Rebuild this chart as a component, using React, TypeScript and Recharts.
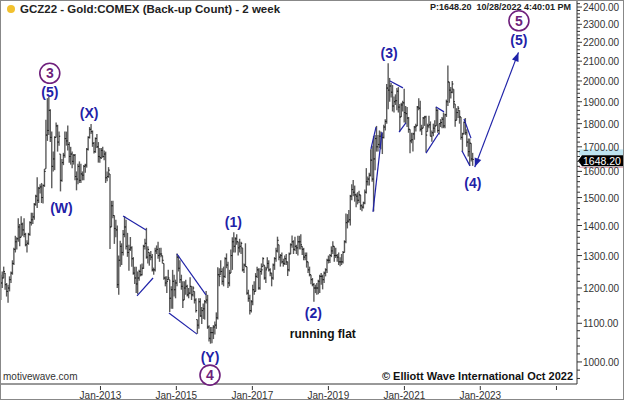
import React from 'react';
import { ComposedChart, Bar, XAxis, YAxis, ReferenceLine, ReferenceDot } from 'recharts';

// 2-week bars of GCZ22 (back-adjusted), bar 0 starts 21 May 2010, last bar = 21 Oct 2022
const highs = [
  1240, 1250, 1265, 1245, 1215, 1210, 1235, 1250, 1285, 1325, 1365, 1360, 1425, 1405, 1432, 1410, 1425, // 2010
  1375, 1350, 1375, 1415, 1445, 1445, 1480, 1510, 1577, 1540, 1550, 1555, 1550, 1610, 1817, 1917, 1923, 1865, 1765, 1680, 1745, 1805, 1795, 1765, 1670, 1650, // 2011
  1675, 1765, 1765, 1792, 1720, 1700, 1680, 1670, 1670, 1600, 1630, 1640, 1630, 1600, 1625, 1630, 1695, 1745, 1785, 1798, 1770, 1720, 1740, 1755, 1720, 1695, // 2012
  1695, 1700, 1685, 1680, 1600, 1617, 1590, 1488, 1488, 1435, 1420, 1400, 1300, 1348, 1340, 1385, 1433, 1420, 1375, 1335, 1361, 1330, 1295, 1265, 1265, 1250, // 2013
  1255, 1272, 1275, 1335, 1355, 1392, 1330, 1310, 1315, 1305, 1262, 1325, 1333, 1345, 1325, 1325, 1300, 1275, 1235, 1235, 1255, 1225, 1205, 1255, 1240, 1225, // 2014
  1307, 1300, 1285, 1240, 1220, 1220, 1225, 1210, 1200, 1232, 1205, 1205, 1190, 1170, 1110, 1170, 1170, 1145, 1155, 1165, 1191, 1180, 1095, 1090, 1090, 1095, // 2015
  1105, 1130, 1263, 1260, 1285, 1260, 1265, 1295, 1307, 1280, 1255, 1320, 1360, 1377, 1360, 1370, 1345, 1355, 1345, 1325, 1275, 1340, 1265, 1195, 1180, 1165, // 2016
  1210, 1220, 1245, 1265, 1260, 1260, 1275, 1295, 1270, 1265, 1295, 1285, 1260, 1245, 1275, 1295, 1325, 1362, 1335, 1305, 1310, 1290, 1300, 1305, 1280, 1310, // 2017
  1340, 1366, 1350, 1362, 1335, 1365, 1365, 1370, 1330, 1325, 1310, 1310, 1280, 1265, 1240, 1230, 1215, 1210, 1215, 1225, 1240, 1245, 1240, 1250, 1260, 1290, // 2018
  1300, 1305, 1330, 1347, 1330, 1325, 1305, 1310, 1295, 1305, 1315, 1350, 1442, 1440, 1455, 1510, 1550, 1566, 1545, 1515, 1520, 1525, 1510, 1475, 1485, 1530, // 2019
  1613, 1580, 1595, 1690, 1705, 1745, 1750, 1790, 1750, 1770, 1765, 1760, 1795, 1820, 1985, 2089, 2015, 1990, 1980, 1925, 1935, 1965, 1970, 1890, 1895, 1905, // 2020
  1962, 1880, 1875, 1830, 1775, 1760, 1760, 1790, 1800, 1880, 1916, 1905, 1795, 1830, 1835, 1835, 1800, 1835, 1810, 1770, 1800, 1815, 1877, 1865, 1800, 1820, 1830, // 2021
  1850, 1845, 1910, 2078, 1995, 1970, 2000, 1960, 1890, 1870, 1880, 1860, 1830, 1760, 1810, 1825, 1775, 1735, 1735, 1715, 1675, // 2022
];

const lows = [
  1165, 1200, 1230, 1195, 1175, 1157, 1190, 1215, 1240, 1270, 1310, 1320, 1345, 1330, 1360, 1365, 1360,
  1330, 1310, 1335, 1365, 1400, 1405, 1420, 1470, 1462, 1480, 1515, 1480, 1478, 1540, 1610, 1725, 1750, 1720, 1535, 1600, 1605, 1740, 1680, 1705, 1523, 1560,
  1625, 1655, 1705, 1685, 1635, 1627, 1612, 1627, 1565, 1527, 1550, 1555, 1555, 1565, 1565, 1595, 1615, 1685, 1735, 1755, 1700, 1672, 1675, 1695, 1635, 1635,
  1650, 1655, 1645, 1555, 1562, 1575, 1321, 1395, 1425, 1338, 1360, 1200, 1180, 1265, 1270, 1300, 1360, 1320, 1296, 1252, 1315, 1265, 1240, 1212, 1185, 1182,
  1222, 1235, 1238, 1258, 1320, 1290, 1275, 1268, 1285, 1250, 1240, 1250, 1305, 1290, 1280, 1295, 1275, 1225, 1205, 1185, 1225, 1131, 1140, 1140, 1175, 1170,
  1205, 1250, 1215, 1195, 1142, 1165, 1180, 1175, 1170, 1182, 1165, 1175, 1155, 1130, 1072, 1085, 1118, 1098, 1112, 1110, 1155, 1085, 1052, 1046, 1047, 1058,
  1070, 1085, 1110, 1205, 1240, 1210, 1205, 1230, 1260, 1200, 1205, 1245, 1255, 1310, 1310, 1335, 1300, 1310, 1305, 1250, 1245, 1265, 1180, 1160, 1124, 1130,
  1150, 1180, 1190, 1230, 1195, 1195, 1240, 1265, 1225, 1215, 1260, 1250, 1235, 1205, 1225, 1255, 1280, 1310, 1285, 1265, 1275, 1265, 1270, 1270, 1236, 1250,
  1305, 1325, 1305, 1315, 1305, 1300, 1320, 1320, 1302, 1285, 1285, 1262, 1245, 1235, 1211, 1205, 1160, 1185, 1180, 1182, 1185, 1210, 1196, 1215, 1235, 1245,
  1275, 1276, 1295, 1305, 1280, 1292, 1280, 1270, 1266, 1270, 1275, 1310, 1340, 1390, 1410, 1400, 1490, 1505, 1485, 1465, 1475, 1480, 1455, 1450, 1460, 1475,
  1515, 1545, 1545, 1580, 1560, 1450, 1605, 1680, 1680, 1695, 1690, 1670, 1735, 1770, 1800, 1865, 1900, 1920, 1855, 1850, 1885, 1860, 1850, 1765, 1830, 1855,
  1805, 1800, 1785, 1760, 1673, 1715, 1680, 1730, 1765, 1790, 1860, 1765, 1750, 1780, 1790, 1677, 1765, 1780, 1745, 1721, 1745, 1760, 1790, 1760, 1753, 1785, 1780,
  1780, 1780, 1830, 1880, 1895, 1915, 1940, 1870, 1786, 1815, 1825, 1800, 1730, 1680, 1755, 1750, 1700, 1660, 1622, 1640, 1622,
];

const closes = [
  1215, 1230, 1250, 1210, 1190, 1200, 1225, 1245, 1275, 1320, 1345, 1355, 1395, 1360, 1405, 1385, 1370,
  1335, 1340, 1370, 1410, 1420, 1430, 1475, 1505, 1490, 1535, 1540, 1500, 1545, 1600, 1750, 1770, 1860, 1740, 1620, 1650, 1740, 1790, 1720, 1745, 1565, 1635,
  1665, 1735, 1725, 1710, 1660, 1670, 1640, 1665, 1580, 1570, 1620, 1565, 1590, 1585, 1620, 1625, 1690, 1740, 1775, 1765, 1715, 1680, 1735, 1700, 1660, 1655,
  1685, 1660, 1670, 1575, 1580, 1605, 1395, 1470, 1435, 1390, 1385, 1210, 1285, 1330, 1310, 1370, 1395, 1330, 1310, 1320, 1325, 1290, 1245, 1230, 1212, 1230,
  1250, 1240, 1260, 1330, 1340, 1295, 1320, 1300, 1295, 1255, 1255, 1315, 1320, 1300, 1305, 1305, 1285, 1230, 1215, 1220, 1230, 1170, 1195, 1220, 1195, 1215,
  1295, 1260, 1225, 1205, 1165, 1200, 1205, 1180, 1185, 1205, 1180, 1200, 1165, 1135, 1095, 1160, 1120, 1135, 1140, 1160, 1165, 1090, 1060, 1075, 1075, 1090,
  1095, 1115, 1240, 1235, 1250, 1220, 1235, 1290, 1270, 1215, 1245, 1300, 1345, 1330, 1355, 1345, 1325, 1330, 1340, 1255, 1270, 1265, 1185, 1170, 1135, 1160,
  1195, 1190, 1235, 1255, 1200, 1250, 1255, 1290, 1230, 1255, 1275, 1255, 1245, 1230, 1270, 1290, 1315, 1350, 1295, 1300, 1280, 1275, 1290, 1280, 1255, 1305,
  1335, 1345, 1320, 1330, 1325, 1345, 1345, 1335, 1320, 1295, 1300, 1280, 1255, 1240, 1225, 1210, 1200, 1200, 1200, 1220, 1235, 1235, 1225, 1245, 1255, 1285,
  1285, 1300, 1315, 1330, 1300, 1300, 1295, 1280, 1280, 1280, 1310, 1345, 1410, 1415, 1420, 1505, 1530, 1520, 1510, 1505, 1490, 1510, 1470, 1465, 1480, 1520,
  1560, 1570, 1585, 1645, 1570, 1650, 1735, 1700, 1710, 1745, 1750, 1740, 1785, 1810, 1965, 1955, 1975, 1945, 1880, 1900, 1905, 1950, 1875, 1830, 1885, 1895,
  1850, 1845, 1825, 1775, 1725, 1730, 1755, 1785, 1790, 1875, 1870, 1775, 1780, 1825, 1830, 1750, 1790, 1795, 1745, 1760, 1780, 1790, 1860, 1770, 1800, 1805, 1820,
  1790, 1840, 1900, 1995, 1955, 1945, 1985, 1900, 1815, 1850, 1870, 1830, 1740, 1755, 1805, 1760, 1720, 1680, 1715, 1650, 1648,
];

const lastPrice = 1648.2;

// x tick positions in bar units (1 Jan of each odd year) and their labels
const xTickPos = [68.3, 120.4, 172.6, 224.8, 277, 329.1, 381.4];
const xTickLabels = ['Jan-2013', 'Jan-2015', 'Jan-2017', 'Jan-2019', 'Jan-2021', 'Jan-2023', ''];

// wave labels [text, bar, price]
const waveLabels: [string, number, number][] = [
  ['(5)', 33.5, 1946],
  ['(X)', 60.5, 1849],
  ['(W)', 41.5, 1462],
  ['(Y)', 143.5, 1012],
  ['(1)', 159.5, 1412],
  ['(2)', 214.5, 1128],
  ['(3)', 266.5, 2141],
  ['(4)', 324, 1555],
  ['(5)', 355.6, 2212],
];
const circleLabels: [string, number, number][] = [
  ['3', 33.5, 2038],
  ['4', 143.5, 968],
  ['5', 355.6, 2320],
];

// channel lines [bar1, price1, bar2, price2]
const channels: [number, number, number, number][] = [
  [83.8, 1433, 99.6, 1385],
  [93.4, 1177, 104.4, 1230],
  [120.8, 1305, 140.7, 1180],
  [115.3, 1128, 134.6, 1071],
  [254, 1691, 257.5, 1785],
  [255.4, 1448, 261.6, 1763],
  [267.1, 2000, 276, 1966],
  [273.3, 1763, 278, 1803],
  [291.8, 1674, 300.7, 1759],
  [298.7, 1875, 304.2, 1853],
  [317.9, 1821, 322.7, 1737],
  [316.5, 1684, 322, 1622],
];
const projection: [number, number, number, number] = [325.3, 1617, 355.3, 2146];

const BLUE = '#1f22a8';
const PURPLE = '#6e1f7c';

const data = highs.map((h, i) => ({ i, range: [lows[i], h], close: closes[i], open: i > 0 ? closes[i - 1] : closes[0] }));

const yTicks: number[] = [];
for (let v = 960; v <= 2420; v += 20) yTicks.push(v);

const OhlcBar = (props: any) => {
  const { x, y, width, height, payload } = props;
  if (!payload || y == null || height == null) return null;
  const top = Math.min(y, y + height);
  const bottom = Math.max(y, y + height);
  const [lo, hi] = payload.range;
  const cx = x + width / 2;
  const at = (v: number) => {
    const c = Math.min(hi, Math.max(lo, v));
    return top + (bottom - top) * Math.log(hi / c) / Math.log(hi / lo);
  };
  const yc = at(payload.close);
  const yo = at(payload.open);
  return (
    <g>
      <line x1={cx} x2={cx} y1={top} y2={bottom} stroke="#5c5c5c" strokeWidth={1.4} />
      <line x1={cx - 1.2} x2={cx} y1={yo} y2={yo} stroke="#222" strokeWidth={1} />
      <line x1={cx} x2={cx + 1.2} y1={yc} y2={yc} stroke="#111" strokeWidth={1} />
    </g>
  );
};

const YTick = (props: any) => {
  const { x, y, payload } = props;
  const major = payload.value % 100 === 0;
  return (
    <g>
      <line x1={x} x2={x + (major ? 5 : 3)} y1={y} y2={y} stroke="#333" />
      {major && (
        <text x={x + 6} y={y} dy={4} fontSize={10} fill="#333" fontFamily="Arial, 'Liberation Sans'">
          {payload.value.toFixed(2)}
        </text>
      )}
    </g>
  );
};

const XTick = (props: any) => {
  const { x, y, index } = props;
  return (
    <g>
      <line x1={x} x2={x} y1={y} y2={y + 4} stroke="#333" />
      <text x={x} y={y + 13} textAnchor="middle" fontSize={10} fill="#333" fontFamily="Arial, 'Liberation Sans'">
        {xTickLabels[index]}
      </text>
    </g>
  );
};

const ArrowLine = (props: any) => {
  const { x1, y1, x2, y2 } = props;
  if (x1 == null) return null;
  const a = Math.atan2(y2 - y1, x2 - x1);
  const head = (px: number, py: number, ang: number) => {
    const l = 9, w = 3.5;
    const bx = px - l * Math.cos(ang), by = py - l * Math.sin(ang);
    const nx = -Math.sin(ang) * w, ny = Math.cos(ang) * w;
    return `${px},${py} ${bx + nx},${by + ny} ${bx - nx},${by - ny}`;
  };
  return (
    <g>
      <line x1={x1} y1={y1} x2={x2} y2={y2} stroke={BLUE} strokeWidth={1.2} />
      <polygon points={head(x2, y2, a)} fill={BLUE} />
      <polygon points={head(x1, y1, a + Math.PI)} fill={BLUE} />
    </g>
  );
};

const font = "Arial, 'Liberation Sans', sans-serif";

export default function App() {
  return (
    <div style={{ position: 'absolute', left: 0, top: 0, width: 624, height: 400, background: '#fff', fontFamily: font }}>
      <ComposedChart width={624} height={400} data={data} margin={{ top: 1, right: 0, bottom: 0, left: 1 }}>
        <XAxis
          type="number"
          dataKey="i"
          domain={[0, 395.5]}
          allowDataOverflow
          ticks={xTickPos}
          interval={0}
          tick={<XTick />}
          tickLine={false}
          tickSize={0}
          axisLine={{ stroke: '#333' }}
          height={16}
        />
        <YAxis
          orientation="right"
          type="number"
          scale="log"
          domain={[947, 2436]}
          allowDataOverflow
          ticks={yTicks}
          interval={0}
          tick={<YTick />}
          tickLine={false}
          tickSize={0}
          tickMargin={0}
          axisLine={{ stroke: '#333' }}
          width={47}
        />
        <Bar dataKey="range" barSize={1} shape={<OhlcBar />} isAnimationActive={false} />
        {channels.map((c, k) => (
          <ReferenceLine
            key={'c' + k}
            segment={[{ x: c[0], y: c[1] }, { x: c[2], y: c[3] }]}
            stroke={BLUE}
            strokeWidth={1.2}
            ifOverflow="visible"
          />
        ))}
        <ReferenceLine
          segment={[{ x: projection[0], y: projection[1] }, { x: projection[2], y: projection[3] }]}
          ifOverflow="visible"
          shape={<ArrowLine />}
        />
        {waveLabels.map((w, k) => (
          <ReferenceDot
            key={'w' + k}
            x={w[1]}
            y={w[2]}
            r={0}
            ifOverflow="visible"
            shape={(p: any) => (
              <text x={p.cx} y={p.cy} textAnchor="middle" dominantBaseline="central" fontSize={14} fontWeight="bold" fill={BLUE} fontFamily={font}>
                {w[0]}
              </text>
            )}
          />
        ))}
        {circleLabels.map((c, k) => (
          <ReferenceDot
            key={'o' + k}
            x={c[1]}
            y={c[2]}
            r={0}
            ifOverflow="visible"
            shape={(p: any) => (
              <g>
                <circle cx={p.cx} cy={p.cy} r={10} fill="#fff" stroke={PURPLE} strokeWidth={1.6} />
                <text x={p.cx} y={p.cy} textAnchor="middle" dominantBaseline="central" fontSize={14} fontWeight="bold" fill={PURPLE} fontFamily={font}>
                  {c[0]}
                </text>
              </g>
            )}
          />
        ))}
        <ReferenceDot
          x={221}
          y={1071}
          r={0}
          ifOverflow="visible"
          shape={(p: any) => (
            <text x={p.cx} y={p.cy} textAnchor="middle" dominantBaseline="central" fontSize={12} fontWeight="bold" fill="#111" fontFamily={font}>
              running flat
            </text>
          )}
        />
        <ReferenceDot
          x={395.5}
          y={lastPrice}
          r={0}
          ifOverflow="visible"
          shape={(p: any) => (
            <g>
              <rect x={p.cx + 2} y={p.cy - 10} width={46} height={6} fill="#bfe4f0" />
              <line x1={p.cx + 2} x2={p.cx + 48} y1={p.cy + 8} y2={p.cy + 8} stroke="#e0a0b0" />
              <path d={`M${p.cx + 1},${p.cy + 1.5} L${p.cx + 5},${p.cy - 4} L${p.cx + 48},${p.cy - 4} L${p.cx + 48},${p.cy + 7} L${p.cx + 5},${p.cy + 7} Z`} fill="#000" />
              <text x={p.cx + 6} y={p.cy + 1.5} dominantBaseline="central" fontSize={10.5} fill="#fff" fontFamily={font}>
                {lastPrice.toFixed(2)}
              </text>
            </g>
          )}
        />
      </ComposedChart>

      <div style={{ position: 'absolute', left: 0, top: 0, width: 622, height: 398, border: '1px solid #888', pointerEvents: 'none' }} />
      <div style={{ position: 'absolute', left: 7, top: 5, width: 8, height: 8, borderRadius: 4, background: '#f2c12e' }} />
      <div style={{ position: 'absolute', left: 20, top: 3, fontSize: 11.5, fontWeight: 'bold', color: '#222', lineHeight: '12px', whiteSpace: 'nowrap' }}>
        GCZ22 - Gold:COMEX (Back-up Count) - 2 week
      </div>
      <div style={{ position: 'absolute', right: 53, top: 2, fontSize: 9, fontWeight: 'bold', color: '#222', lineHeight: '11px', whiteSpace: 'pre' }}>
        {'P:1648.20  10/28/2022 4:40:01 PM'}
      </div>
      <div style={{ position: 'absolute', left: 3, top: 371, fontSize: 10, color: '#333', lineHeight: '12px' }}>motivewave.com</div>
      <div style={{ position: 'absolute', right: 51, top: 369, fontSize: 11, fontWeight: 'bold', color: '#111', lineHeight: '14px', whiteSpace: 'nowrap' }}>
        © Elliott Wave International Oct 2022
      </div>
    </div>
  );
}
